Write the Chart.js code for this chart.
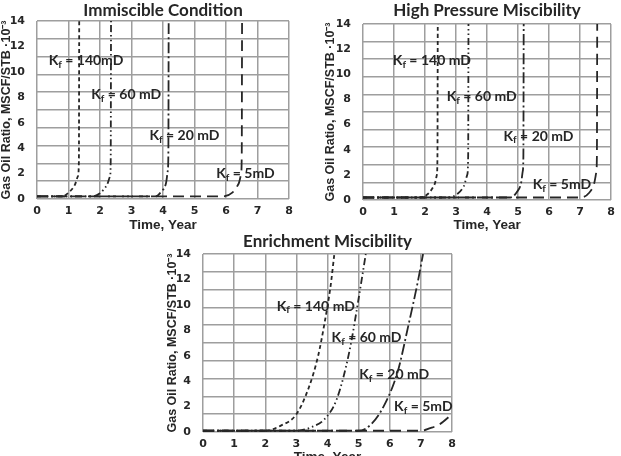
<!DOCTYPE html>
<html>
<head>
<meta charset="utf-8">
<script src="https://cdn.jsdelivr.net/npm/chart.js@4.4.1/dist/chart.umd.min.js"></script>
<style>
	html, body { margin: 0; padding: 0; background: #fff; }
	body { width: 621px; height: 456px; position: relative; overflow: hidden; }
	canvas { position: absolute; }
</style>
</head>
<body>
<canvas id="immChart" width="300" height="232" style="left:0;top:0"></canvas>
<canvas id="hpmChart" width="297" height="232" style="left:324px;top:0"></canvas>
<canvas id="enrChart" width="297" height="228" style="left:166px;top:228px"></canvas>
<script>
// permeability labels
const kfNames = ["140 mD", "60 mD", "20 mD", "5mD"];

// Immiscible Condition: [time (yr), GOR (MSCF/STB x 10^-3)]
const imm140 = [[0, 0.2], [0.8, 0.2], [1.0, 0.5], [1.2, 1.1], [1.3, 1.8], [1.33, 3], [1.34, 14]];
const imm60 = [[0, 0.2], [1.75, 0.2], [2.0, 0.45], [2.2, 1.0], [2.32, 1.8], [2.34, 3], [2.35, 14]];
const imm20 = [[0, 0.2], [3.75, 0.2], [3.95, 0.6], [4.1, 1.3], [4.15, 2.2], [4.17, 3.5], [4.18, 14]];
const imm5 = [[0, 0.2], [5.9, 0.2], [6.2, 0.5], [6.4, 1.2], [6.48, 2], [6.5, 3.5], [6.51, 14]];

// High Pressure Miscibility
const hpm140 = [[0, 0.2], [1.8, 0.2], [2.1, 0.5], [2.3, 1.2], [2.38, 2], [2.4, 3.5], [2.41, 14]];
const hpm60 = [[0, 0.2], [2.75, 0.2], [3.05, 0.5], [3.25, 1.1], [3.36, 2], [3.39, 3.5], [3.4, 14]];
const hpm20 = [[0, 0.2], [4.75, 0.2], [4.95, 0.6], [5.1, 1.4], [5.15, 2.3], [5.17, 3.5], [5.18, 14]];
const hpm5 = [[0, 0.2], [7.0, 0.2], [7.3, 0.6], [7.45, 1.3], [7.52, 2.2], [7.54, 3.5], [7.55, 14]];

// Enrichment Miscibility
const enr140 = [[0, 0.1], [2.0, 0.1], [2.5, 0.5], [3.0, 1.4], [3.4, 3.5], [3.7, 6], [3.9, 8.5], [4.1, 11.5], [4.22, 14]];
const enr60 = [[0, 0.1], [3.0, 0.1], [3.5, 0.4], [3.9, 1.0], [4.3, 2.6], [4.7, 6.3], [5.0, 10.5], [5.23, 14]];
const enr20 = [[0, 0.1], [5.0, 0.1], [5.4, 0.6], [5.8, 2.0], [6.25, 4.7], [6.6, 8.4], [6.9, 11.8], [7.07, 14]];
const enr5 = [[0, 0.1], [7.0, 0.1], [7.3, 0.3], [7.6, 0.6], [8.0, 1.4]];

// where the K_f labels sit (data units)
const immLabelX = [0.37, 1.72, 3.57, 5.69];
const immLabelY = [10.9, 8.2, 5.0, 2.0];
const hpmLabelX = [0.96, 2.7, 4.53, 5.47];
const hpmLabelY = [11.1, 8.2, 5.07, 1.2];
const enrLabelX = [2.37, 4.13, 5.02, 6.14];
const enrLabelY = [9.9, 7.4, 4.5, 2.0];

const lineDashes = [[4, 3], [7, 3, 1.5, 3, 1.5, 3], [11, 3, 2, 3], [11, 6]];
const inkColor = "#262626";
const gridColor = "#9e9e9e";
const tickFont = { family: "DejaVu Sans", size: 11, weight: "bold" };

// K_f labels with a subscript f, plus the panel title centred over the plot area
const panelText = {
	id: "panelText",
	afterDatasetsDraw(chart, args, opts) {
		const { ctx, scales, chartArea } = chart;
		ctx.save();
		ctx.fillStyle = inkColor;
		ctx.textBaseline = "middle";
		ctx.textAlign = "center";
		ctx.font = "bold 17px Lato";
		ctx.fillText(opts.title, (chartArea.left + chartArea.right) / 2, opts.titleY);
		ctx.textAlign = "left";
		opts.xs.forEach((lx, i) => {
			let px = scales.x.getPixelForValue(lx);
			const py = scales.y.getPixelForValue(opts.ys[i]);
			ctx.font = "bold 14px Lato";
			ctx.fillText("K", px, py);
			px += ctx.measureText("K").width;
			ctx.font = "bold 10px Lato";
			ctx.fillText("f", px, py + 4);
			px += ctx.measureText("f").width;
			ctx.font = "bold 14px Lato";
			ctx.fillText(" = " + opts.names[i], px, py);
		});
		ctx.restore();
	},
};

function makeChart(id, title, series, labelX, labelY, names, pad) {
	const ctx = document.getElementById(id);
	const datasets = series.map((pts, i) => ({
		data: pts.map(([x, y]) => ({ x: x, y: y })),
		borderColor: inkColor,
		borderWidth: 1.8,
		borderDash: lineDashes[i],
		pointRadius: 0,
		fill: false,
		cubicInterpolationMode: "monotone",
	}));
	return new Chart(ctx, {
		type: "line",
		data: { datasets: datasets },
		plugins: [panelText],
		options: {
			responsive: false,
			animation: false,
			layout: { padding: { left: 0, right: pad.right, top: pad.top, bottom: 0 } },
			plugins: {
				legend: { display: false },
				tooltip: { enabled: false },
				title: { display: false },
				panelText: { title: title, titleY: pad.titleY, xs: labelX, ys: labelY, names: names },
			},
			scales: {
				x: {
					type: "linear",
					min: 0,
					max: 8,
					afterFit: (s) => { s.height = pad.xHeight; },
					ticks: { stepSize: 1, color: inkColor, padding: 6, font: tickFont },
					grid: { color: gridColor, lineWidth: 1.5, drawTicks: false },
					border: { display: false },
					title: { display: true, text: "Time, Year", color: inkColor, padding: { top: 0, bottom: pad.xTitlePad }, font: { family: "Liberation Sans", size: 13.5, weight: "bold" } },
				},
				y: {
					min: 0,
					max: 14,
					afterFit: (s) => { s.width = pad.yWidth; },
					ticks: { stepSize: 2, color: inkColor, padding: 4, font: tickFont },
					grid: { display: false },
					border: { display: false },
					title: { display: true, text: "Gas Oil Ratio, MSCF/STB \u00b710\u207b\u00b3", color: inkColor, padding: { top: -1, bottom: 0 }, font: { family: "Liberation Sans", size: 12.5, weight: "bold" } },
				},
				yg: {
					position: "right",
					min: 0,
					max: 10,
					afterFit: (s) => { s.width = 0; },
					ticks: { stepSize: 1, display: false },
					grid: { color: gridColor, lineWidth: 1.5, drawTicks: false },
					border: { display: false },
				},
			},
		},
	});
}

makeChart("immChart", "Immiscible Condition", [imm140, imm60, imm20, imm5], immLabelX, immLabelY,
	["140mD", "60 mD", "20 mD", "5mD"], { right: 11, top: 21, titleY: 11, xHeight: 33, yWidth: 37, xTitlePad: -1 });
makeChart("hpmChart", "High Pressure Miscibility", [hpm140, hpm60, hpm20, hpm5], hpmLabelX, hpmLabelY,
	kfNames, { right: 7, top: 24, titleY: 11, xHeight: 32, yWidth: 39, xTitlePad: -1 });
makeChart("enrChart", "Enrichment Miscibility", [enr140, enr60, enr20, enr5], enrLabelX, enrLabelY,
	kfNames, { right: 11, top: 26, titleY: 14, xHeight: 24, yWidth: 37, xTitlePad: -9 });
</script>
</body>
</html>
